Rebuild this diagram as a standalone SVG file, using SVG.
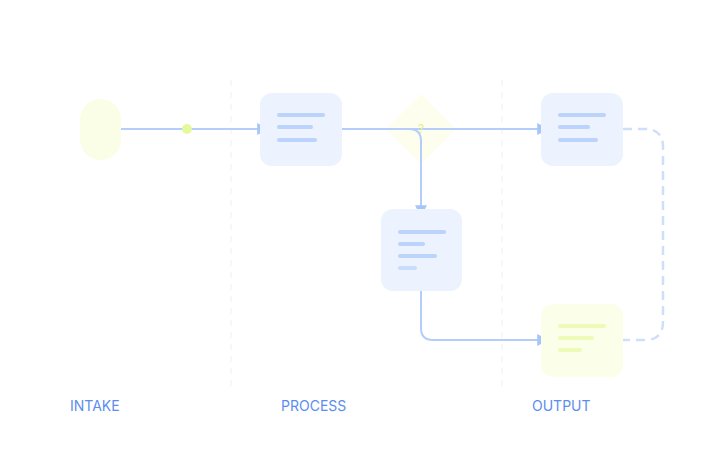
<svg xmlns="http://www.w3.org/2000/svg" width="723" height="461" viewBox="0 0 723 461">
<style>
.lane{stroke:#eef0f6;stroke-width:1;stroke-dasharray:6 6}
.box{fill:#ecf2fe}
.bl{stroke:#bcd3fb;stroke-width:4;stroke-linecap:round}
.yl{stroke:#eefbb8;stroke-width:4;stroke-linecap:round}
.c{fill:none;stroke:#b4cdfa;stroke-width:2}
.d{fill:none;stroke:#cfdefa;stroke-width:2.5;stroke-dasharray:9 6}
.lbl{font-family:Inter,"Liberation Sans",sans-serif;font-size:14px;fill:#5b8def}
</style>
<defs><marker id="a" viewBox="0 0 10 10" refX="9" refY="5" markerWidth="12" markerHeight="12" markerUnits="userSpaceOnUse" orient="auto"><path d="M0,0L10,5L0,10z" fill="#a8c5fa"/></marker></defs>
<rect width="723" height="461" fill="#fff"/>
<line class="lane" x1="231" y1="80" x2="231" y2="390"/>
<line class="lane" x1="502" y1="80" x2="502" y2="390"/>
<g id="start"><rect x="80" y="99" width="41" height="61" rx="20.5" fill="#fbfee6"/></g>
<g id="decision"><polygon points="421,94 456,129 421,164 386,129" fill="#fdfeee"/></g>
<g id="connectors">
<path class="c" d="M121,129H268" marker-end="url(#a)"/>
<path class="c" d="M342,129H548" marker-end="url(#a)"/>
<path class="c" d="M342,129H409Q421,129 421,141V216" marker-end="url(#a)"/>
<path class="c" d="M421,291V328Q421,340 433,340H548" marker-end="url(#a)"/>
<path class="d" d="M623,129H645Q663,129 663,147V322Q663,340 645,340H623"/>
<circle cx="187" cy="129" r="5" fill="#e4f99c"/>
</g>
<text x="421" y="133" text-anchor="middle" font-family="Inter,'Liberation Sans',sans-serif" font-size="12" fill="#dcf47c">?</text>
<g id="p1"><rect class="box" x="260" y="93" width="82" height="73" rx="12"/><line class="bl" x1="279" y1="115" x2="323" y2="115"/><line class="bl" x1="279" y1="127" x2="311" y2="127"/><line class="bl" x1="279" y1="140" x2="315" y2="140"/></g>
<g id="p2"><rect class="box" x="381" y="209" width="81" height="82" rx="12"/><line class="bl" x1="400" y1="232" x2="444" y2="232"/><line class="bl" x1="400" y1="244" x2="423" y2="244"/><line class="bl" x1="400" y1="256" x2="435" y2="256"/><line class="bl" x1="400" y1="268" x2="415" y2="268" opacity="0.7"/></g>
<g id="o1"><rect class="box" x="541" y="93" width="82" height="73" rx="12"/><line class="bl" x1="560" y1="115" x2="604" y2="115"/><line class="bl" x1="560" y1="127" x2="588" y2="127"/><line class="bl" x1="560" y1="140" x2="596" y2="140"/></g>
<g id="o2"><rect x="541" y="304" width="82" height="73" rx="12" fill="#fbfee8"/><line class="yl" x1="560" y1="326" x2="604" y2="326"/><line class="yl" x1="560" y1="338" x2="592" y2="338"/><line class="yl" x1="560" y1="350" x2="580" y2="350"/></g>
<text class="lbl" x="70" y="411">INTAKE</text>
<text class="lbl" x="281" y="411">PROCESS</text>
<text class="lbl" x="532" y="411">OUTPUT</text>
</svg>
